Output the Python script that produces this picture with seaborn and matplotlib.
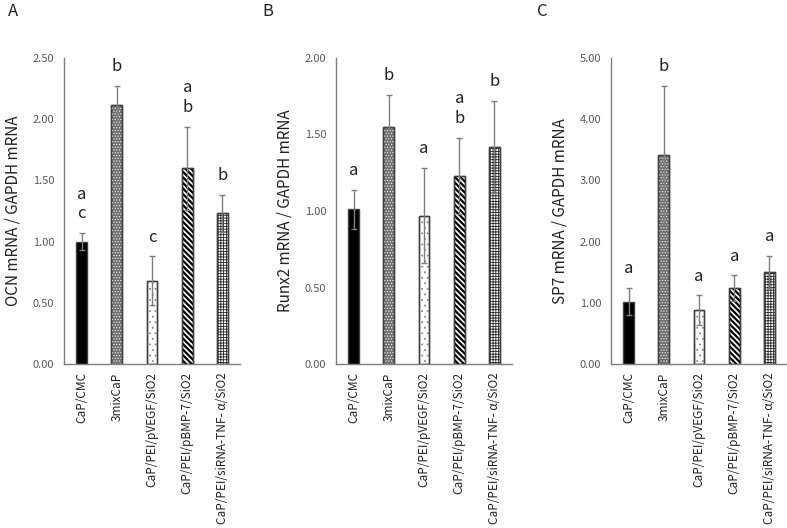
import numpy as np
import pandas as pd
import matplotlib
matplotlib.use("Agg")
import matplotlib.pyplot as plt
import seaborn as sns

sns.set_style("white")
plt.rcParams["font.family"] = ["Noto Sans CJK JP", "DejaVu Sans"]

groups = [
    "CaP/CMC",
    "3mixCaP",
    "CaP/PEI/pVEGF/SiO2",
    "CaP/PEI/pBMP-7/SiO2",
    "CaP/PEI/siRNA-TNF- α/SiO2",
]

ocn_mean = [1.00, 2.12, 0.68, 1.60, 1.23]
ocn_err = [0.07, 0.15, 0.20, 0.34, 0.15]
ocn_letters = ["a\nc", "b", "c", "a\nb", "b"]

runx2_mean = [1.01, 1.55, 0.97, 1.23, 1.42]
runx2_err = [0.13, 0.21, 0.31, 0.25, 0.30]
runx2_letters = ["a", "b", "a", "a\nb", "b"]

sp7_mean = [1.02, 3.41, 0.88, 1.24, 1.51]
sp7_err = [0.22, 1.14, 0.24, 0.21, 0.26]
sp7_letters = ["a", "b", "a", "a", "a"]

panels = [
    ("A", "OCN mRNA / GAPDH mRNA", ocn_mean, ocn_err, ocn_letters, 2.5, 0.5),
    ("B", "Runx2 mRNA / GAPDH mRNA", runx2_mean, runx2_err, runx2_letters, 2.0, 0.5),
    ("C", "SP7 mRNA / GAPDH mRNA", sp7_mean, sp7_err, sp7_letters, 5.0, 1.0),
]

# fill, hatch, hatch colour, hatch line width for each group
styles = [
    ("black", None, None, 1.0),
    ("#6e6e6e", "......", "#e8e8e8", 0.6),
    ("white", "...", "#8a8a8a", 0.6),
    ("white", "\\\\\\\\\\\\", "black", 1.6),
    ("white", "++++++", "#2a2a2a", 0.6),
]

fig = plt.figure(figsize=(7.87, 5.28), dpi=100)
lefts = [64 / 787, 336 / 787, 611 / 787]
grey = "#7f7f7f"

for (tag, ylabel, mean, err, letters, ymax, step), left in zip(panels, lefts):
    ax = fig.add_axes([left, 164 / 528, 176 / 787, 306 / 528])
    df = pd.DataFrame({"group": groups, "value": mean})
    sns.barplot(data=df, x="group", y="value", order=groups, width=0.31,
                color="white", errorbar=None, ax=ax)
    for p, (fc, hatch, hc, hlw) in zip(list(ax.patches), styles):
        p.set_facecolor(fc)
        p.set_edgecolor("#404040")
        p.set_linewidth(1.0)
        if hatch:
            with plt.rc_context({"hatch.linewidth": hlw}):
                h = ax.bar(p.get_x() + p.get_width() / 2, p.get_height(), width=p.get_width(),
                           fill=False, hatch=hatch, edgecolor=hc, linewidth=0,
                           zorder=p.get_zorder() + 0.1)
            for hp in h:
                if hasattr(hp, "set_hatch_linewidth"):
                    hp.set_hatch_linewidth(hlw)
            ax.bar(p.get_x() + p.get_width() / 2, p.get_height(), width=p.get_width(),
                   fill=False, edgecolor="#404040", linewidth=1.0, zorder=p.get_zorder() + 0.2)

    x = np.arange(len(groups))
    ax.errorbar(x, mean, yerr=err, fmt="none", ecolor=grey, elinewidth=1.0,
                capsize=2.5, capthick=1.0, zorder=5)
    for xi, m, e, lab in zip(x, mean, err, letters):
        ax.text(xi, m + e + ymax * 0.035, lab, ha="center", va="bottom",
                fontsize=12, linespacing=1.2, color="#222222")

    ticks = np.arange(0, ymax + step / 2, step)
    ax.set_ylim(0, ymax)
    ax.set_xlim(-0.5, len(groups) - 0.5)
    ax.set_yticks(ticks)
    ax.set_yticklabels([f"{t:.2f}" for t in ticks], fontsize=8, color="#595959")
    ax.set_xticks(x)
    ax.set_xticklabels(groups, rotation=90, fontsize=8.5, color="#222222")
    ax.tick_params(axis="y", direction="out", length=4, width=0.8, color=grey, pad=3)
    ax.tick_params(axis="x", length=0, pad=6)
    ax.set_xlabel("")
    ax.set_ylabel(ylabel, fontsize=11, color="#222222", labelpad=8)
    for s in ["top", "right"]:
        ax.spines[s].set_visible(False)
    for s in ["left", "bottom"]:
        ax.spines[s].set_color(grey)
        ax.spines[s].set_linewidth(1.0)
    fig.text(left - (56 if tag == "A" else 74) / 787, 1 - 12 / 528, tag,
             fontsize=12, ha="left", va="center", color="#222222")

fig.savefig("out.png", dpi=100)
